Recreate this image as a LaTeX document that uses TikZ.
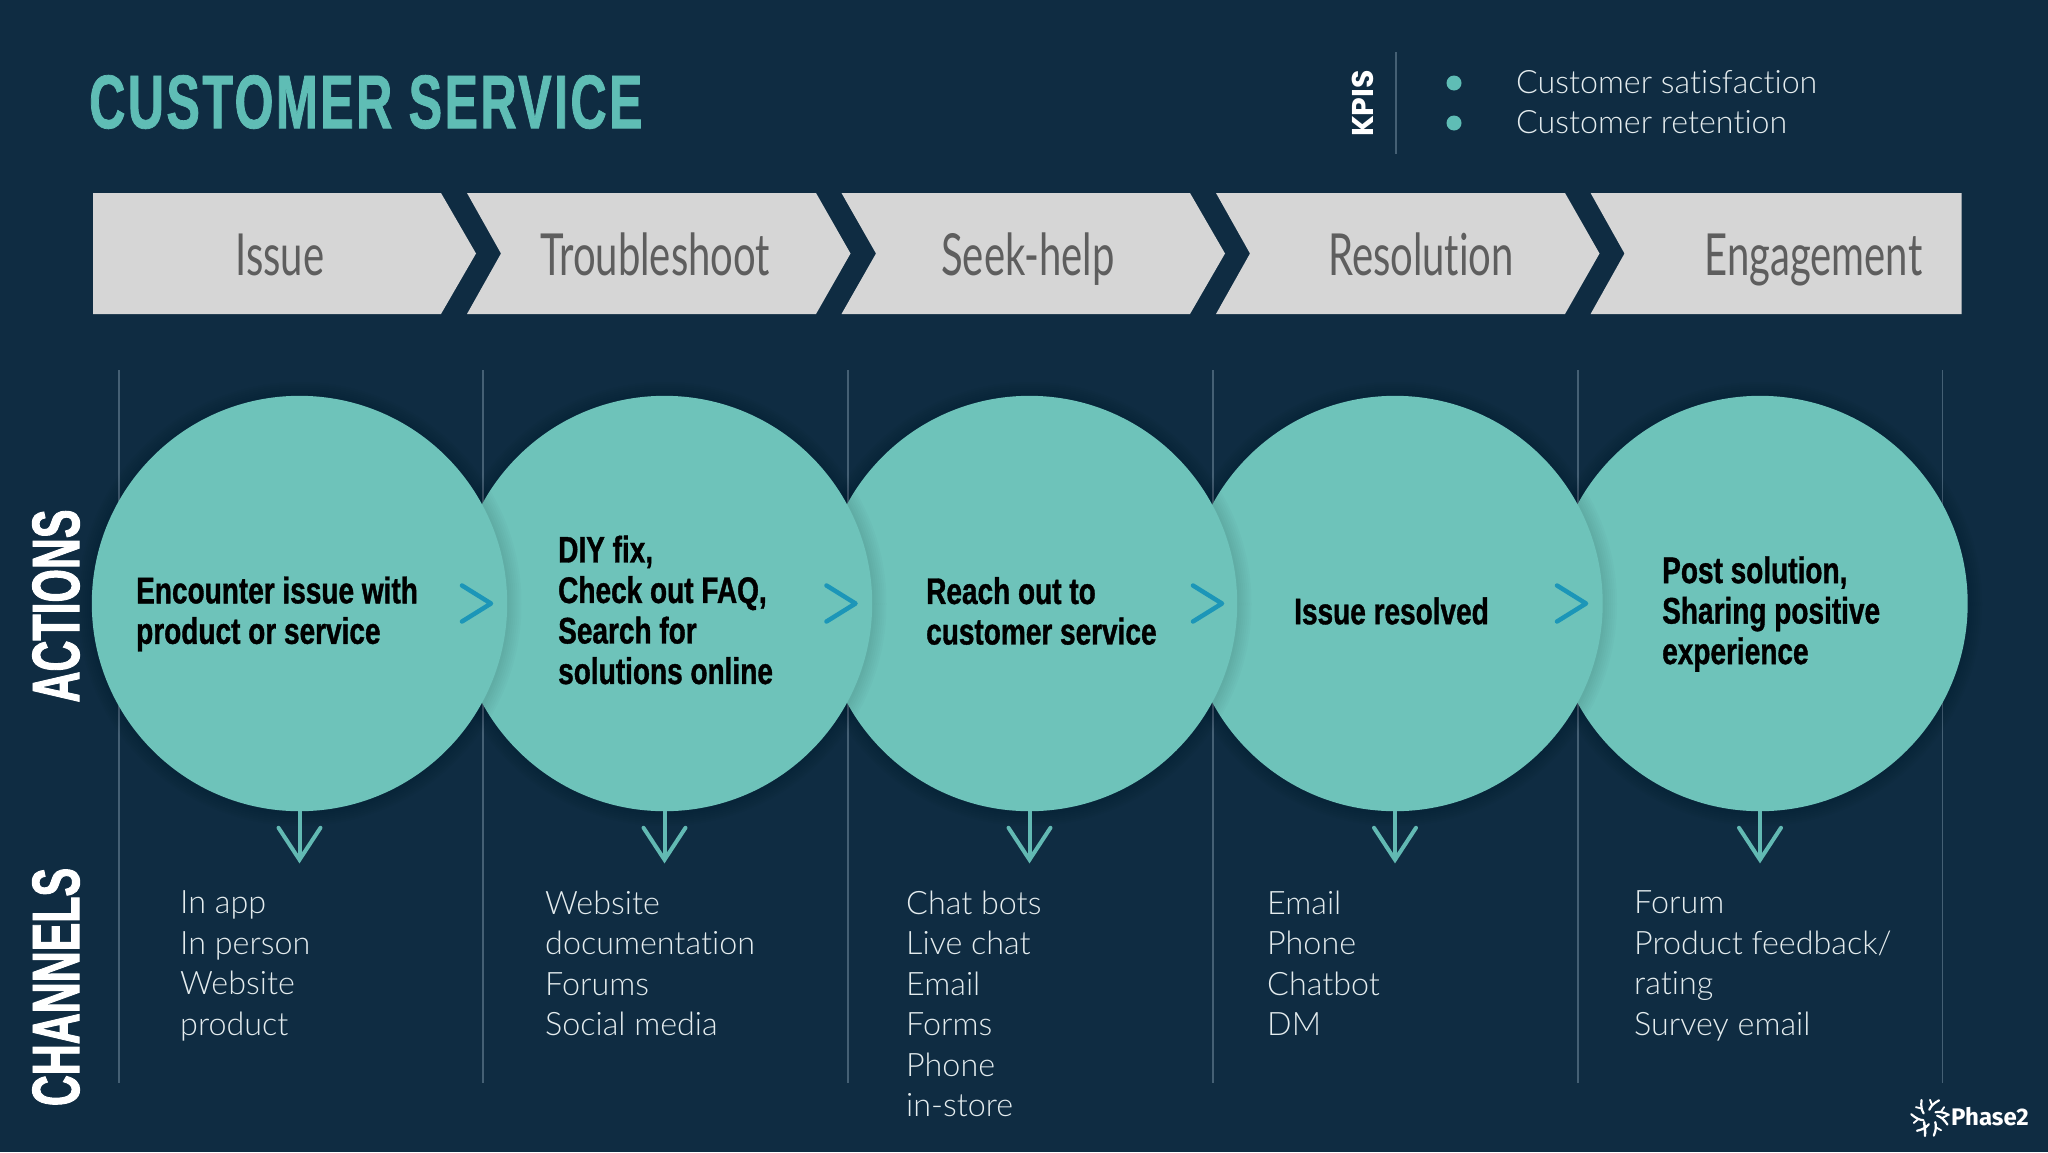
\documentclass[tikz,border=0pt]{standalone}
\usepackage{fontspec}
\usetikzlibrary{arrows.meta}
\newfontfamily\bodyfont[Ligatures={NoCommon,NoContextual}]{Lato Light}
\newfontfamily\condlight[FakeStretch=0.69,Ligatures={NoCommon,NoContextual}]{Lato}
\newfontfamily\condbold[BoldFeatures={FakeStretch=0.757,FakeBold=1}]{Liberation Sans}
\newfontfamily\titlefont[BoldFeatures={FakeStretch=0.66,FakeBold=1,LetterSpace=3.2}]{Liberation Sans}
\newfontfamily\sidefont[BoldFeatures={FakeStretch=0.64,FakeBold=1.4}]{Liberation Sans}
\newfontfamily\kpifont{Poppins}
\newfontfamily\logofont{Fira Sans}
\definecolor{bg}{HTML}{0F2C42}
\definecolor{teal}{HTML}{6EC3BA}
\definecolor{titleteal}{HTML}{5FBDB5}
\definecolor{chev}{HTML}{D6D6D6}
\definecolor{chevtext}{HTML}{5E5E5E}
\definecolor{rule}{HTML}{456074}
\definecolor{blue}{HTML}{1C96B8}
\definecolor{downteal}{HTML}{62B9B3}
\definecolor{bodytext}{HTML}{E4ECEE}
\tikzset{
  vrule/.style={draw=rule,line width=1.4pt},
  chevron/.style={fill=chev,draw=none},
  chevlabel/.style={anchor=base,text=chevtext,font=\condlight\fontsize{58}{58}\selectfont,inner sep=0pt},
  disc/.style={circle,fill=teal,draw=none,minimum size=415.4pt,inner sep=0pt},
  disclabel/.style={anchor=west,align=left,text=black,inner sep=0pt,font=\condbold\bfseries\fontsize{37}{40.5}\selectfont},
  channel/.style={anchor=north west,align=left,text=bodytext,inner sep=0pt,font=\bodyfont\fontsize{32.3}{40.5}\selectfont},
  side/.style={rotate=90,text=white,inner sep=0pt,font=\sidefont\bfseries\fontsize{67}{67}\selectfont},
  nextmark/.style={draw=blue,line width=4.5pt,line cap=round,line join=round},
  downarrow/.style={draw=downteal,line width=4pt,-{Straight Barb[length=32pt,width=42pt,line cap=round]}},
}
\begin{document}
\begin{tikzpicture}[x=1pt,y=-1pt]
\useasboundingbox (0,0) rectangle (2048,1152);
\fill[bg] (0,0) rectangle (2048,1152);
% title
\node[anchor=west,text=titleteal,inner sep=0pt,font=\titlefont\bfseries\fontsize{76}{76}\selectfont] (title) at (89,102) {CUSTOMER SERVICE};
% KPIs
\node[rotate=90,text=white,inner sep=0pt,font=\kpifont\bfseries\fontsize{30}{30}\selectfont] (kpi) at (1363,103.5) {KPIS};
\draw[vrule] (1396,52) -- (1396,154);
\fill[titleteal] (1454,83) circle (7.5);
\fill[titleteal] (1454,123) circle (7.5);
\node[anchor=north west,align=left,text=bodytext,inner sep=0pt,font=\bodyfont\fontsize{32.2}{40.5}\selectfont] (kpitext) at (1516,70) {Customer satisfaction\\Customer retention};
% chevrons
\fill[chevron] (93,193) -- (441,193) -- (476,253.5) -- (441,314) -- (93,314) -- cycle;
\fill[chevron] (467,193) -- (816,193) -- (850.5,253.5) -- (816,314) -- (467,314) -- (501,253.5) -- cycle;
\fill[chevron] (841.5,193) -- (1190,193) -- (1225,253.5) -- (1190,314) -- (841.5,314) -- (876,253.5) -- cycle;
\fill[chevron] (1216,193) -- (1565,193) -- (1599.5,253.5) -- (1565,314) -- (1216,314) -- (1250,253.5) -- cycle;
\fill[chevron] (1590.6,193) -- (1961.5,193) -- (1961.5,314) -- (1590.6,314) -- (1624.5,253.5) -- cycle;
\node[chevlabel] (l1) at (280,275) {Issue};
\node[chevlabel] (l2) at (655,275) {Troubleshoot};
\node[chevlabel] (l3) at (1028,275) {Seek-help};
\node[chevlabel] (l4) at (1421,275) {Resolution};
\node[chevlabel] (l5) at (1813.5,275) {Engagement};
% column rules
\foreach \x in {119,483,848,1213,1578,1942.5} \draw[vrule] (\x,370) -- (\x,1083);
% discs, right to left
\foreach \n/\x in {5/1760,4/1395,3/1029.5,2/664.5,1/299.5}{
  \foreach \r in {222,220,218,216,214,212,210}
    \fill[black,opacity=0.017] (\x,604) circle (\r);
  \node[disc] (c\n) at (\x,603.5) {};
}
% next marks
\foreach \x in {460,824.5,1191,1555}
  \draw[nextmark] (\x+2,585.5) -- (\x+31,603.5) -- (\x+2,621.5);
% down arrows
\foreach \n in {1,...,5}{
  \coordinate (d\n) at ([yshift=-52pt]c\n.south);
  \draw[downarrow] (c\n.south) -- (d\n);
}
% disc labels
\node[disclabel] (t1) at (136,614) {Encounter issue with\\product or service};
\node[disclabel] (t2) at (558,610) {DIY fix,\\Check out FAQ,\\Search for\\solutions online};
\node[disclabel] (t3) at (926,611) {Reach out to\\customer service};
\node[disclabel] (t4) at (1294,611) {Issue resolved};
\node[disclabel] (t5) at (1662,614) {Post solution,\\Sharing positive\\experience};
% channels
\node[channel] (ch1) at (180,890.5) {In app\\In person\\Website\\product};
\node[channel] (ch2) at (545,890.5) {Website\\documentation\\Forums\\Social media};
\node[channel] (ch3) at (906,890.5) {Chat bots\\Live chat\\Email\\Forms\\Phone\\in-store};
\node[channel] (ch4) at (1267,890.5) {Email\\Phone\\Chatbot\\DM};
\node[channel] (ch5) at (1634,890.5) {Forum\\Product feedback/\\rating\\Survey email};
% side labels
\node[side] (actions) at (56,606) {ACTIONS};
\node[side] (channels) at (56,987) {CHANNELS};
% logo
\begin{scope}[shift={(1930,1117)},draw=white,line width=2.2pt,line cap=round]
\foreach \a in {25,80,135,190,245,300,355}{
  \draw[rotate=\a] (7,-2) .. controls (11,-1) and (14,1) .. (18,6);
  \draw[rotate=\a,line width=1.8pt] (12,0) -- (17,-3);
}
\draw[line width=2.4pt] (-6,5) .. controls (-5,10) and (-5,14) .. (-5,19);
\end{scope}
\node[anchor=west,text=white,inner sep=0pt,font=\logofont\bfseries\fontsize{24}{24}\selectfont] (logo) at (1951,1117) {Phase2};
\end{tikzpicture}
\end{document}
